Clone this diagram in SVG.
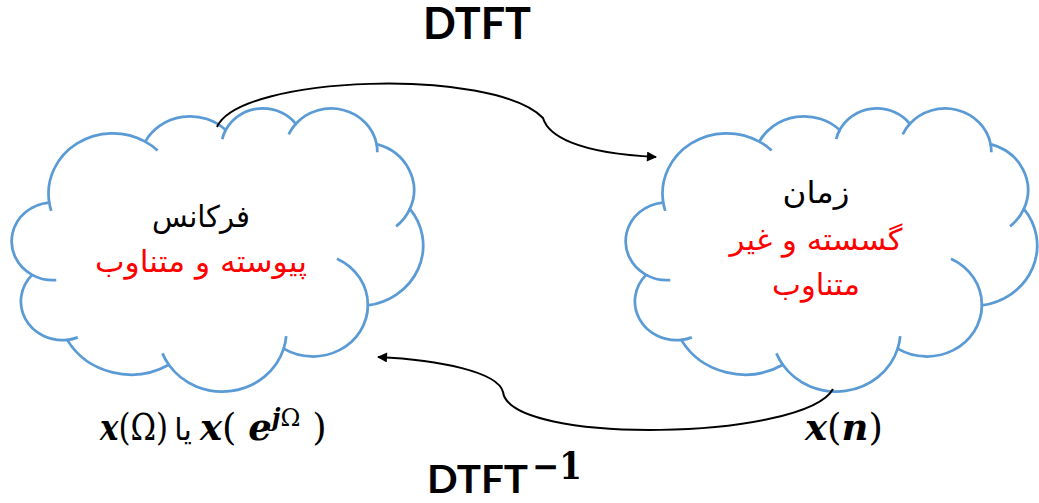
<svg xmlns="http://www.w3.org/2000/svg" xmlns:xlink="http://www.w3.org/1999/xlink" width="1039" height="503" viewBox="0 0 1039 503">
  <style>
    .cloud { fill: #ffffff; stroke: #5B9BD5; stroke-width: 2.75; vector-effect: non-scaling-stroke; }
    .deco { fill: none; stroke: #5B9BD5; stroke-width: 2.75; vector-effect: non-scaling-stroke; }
    .ar { font-family: 'DejaVu Sans', 'Noto Sans', sans-serif; font-size: 30px; text-anchor: middle; }
    .black { fill: #000000; }
    .red { fill: #FF0000; }
    .title { font-family: Lato, 'Open Sans', sans-serif; font-weight: bold; fill: #000000; }
    .math { font-family: 'DejaVu Serif', 'Liberation Serif', serif; font-size: 37px; fill: #000000; }
    .bi { font-weight: bold; font-style: italic; }
    .conn { fill: none; stroke: #000000; stroke-width: 2; }
  </style>
  <defs>
    <marker id="arrow" viewBox="0 0 10 10" refX="9" refY="5" markerWidth="6.5" markerHeight="5" markerUnits="strokeWidth" orient="auto">
      <path d="M0,0 L10,5 L0,10 Z" fill="#000000"/>
    </marker>
    <g id="cloud">
      <path class="cloud" d="M3900 14370 A6753 9190 0 0 1 14006 5203 A5333 7267 0 0 1 22458 3434 A4365 5945 0 0 1 29835 2484 A4857 6595 0 0 1 38319 5581 A5333 7273 0 0 1 41820 15465 A6775 9220 0 0 1 37405 30207 A5785 7867 0 0 1 28557 36817 A6752 9215 0 0 1 16481 39270 A7720 10543 0 0 1 5805 35475 A4360 5918 0 0 1 2114 25553 A4345 5945 0 0 1 3864 14510 Z"/>
      <path class="deco" d="M4648 26350 A4345 5945 0 0 1 2114 25553 M6914 35093 A4360 5918 0 0 1 5805 35475 M16481 39270 A6752 9215 0 0 1 15813 37529 M28823 34909 A6752 9215 0 0 1 28557 36817 M34155 23072 A5785 7867 0 0 1 37405 30207 M41820 15465 A5333 7273 0 0 1 40371 18142 M38319 5581 A4857 6595 0 0 1 38396 6845 M29092 4098 A4857 6595 0 0 1 29835 2484 M22099 4824 A4365 5945 0 0 1 22458 3434 M14006 5203 A6753 9190 0 0 1 15304 6549 M4127 15789 A6753 9190 0 0 1 3900 14370"/>
    </g>
  </defs>

  <g id="node-frequency">
    <use xlink:href="#cloud" href="#cloud" transform="translate(12,107.5) scale(0.0095139,0.0065509)"/>
    <text class="ar black" x="201" y="227" textLength="98" lengthAdjust="spacingAndGlyphs">فرکانس</text>
    <text class="ar red" x="201" y="272" textLength="212" lengthAdjust="spacingAndGlyphs">پیوسته و متناوب</text>
  </g>

  <g id="node-time">
    <use xlink:href="#cloud" href="#cloud" transform="translate(626,107.5) scale(0.0095139,0.0065509)"/>
    <text class="ar black" x="816" y="203" textLength="67" lengthAdjust="spacingAndGlyphs">زمان</text>
    <text class="ar red" x="816" y="250" textLength="173" lengthAdjust="spacingAndGlyphs">گسسته و غیر</text>
    <text class="ar red" x="816" y="295" textLength="88" lengthAdjust="spacingAndGlyphs">متناوب</text>
  </g>

  <g id="connectors">
    <path class="conn" d="M217 127 C240 75, 493 67, 543 118 C548 135, 575 153, 656 157" marker-end="url(#arrow)"/>
    <path class="conn" d="M833 389 C805 440, 510 446, 503 392 C498 372, 440 360, 378 357" marker-end="url(#arrow)"/>
  </g>

  <g id="labels">
    <text class="title" x="423" y="39" font-size="44" textLength="108" lengthAdjust="spacingAndGlyphs">DTFT</text>
    <text class="title" x="427" y="493" font-size="39" textLength="101" lengthAdjust="spacingAndGlyphs">DTFT</text>
    <text class="math" x="532" y="479" font-size="25" font-weight="bold" textLength="50" lengthAdjust="spacingAndGlyphs">−1</text>

    <text class="math" x="100" y="440" textLength="68" lengthAdjust="spacingAndGlyphs"><tspan class="bi">x</tspan>(Ω)</text>
    <text class="ar black" x="183" y="440" font-size="24">یا</text>
    <text class="math" x="200" y="440"><tspan class="bi">x</tspan>( <tspan class="bi">e</tspan><tspan class="bi" font-size="24" dy="-14">j</tspan><tspan font-size="24">Ω</tspan><tspan dy="14"> )</tspan></text>

    <text class="math" x="805" y="440"><tspan class="bi">x</tspan>(<tspan class="bi">n</tspan>)</text>
  </g>
</svg>
